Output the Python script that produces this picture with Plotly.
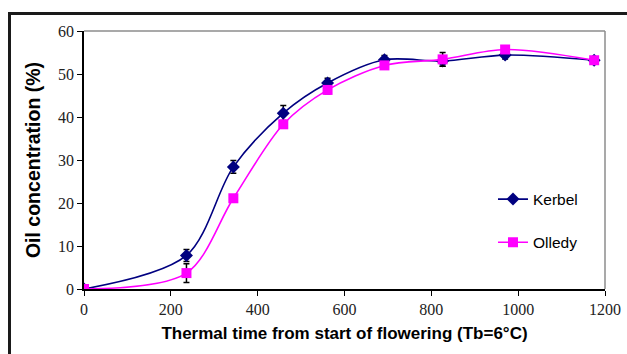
import plotly.graph_objects as go

x_vals = [0, 236, 344, 459, 561, 692, 826, 970, 1175]
kerbel = [0, 7.8, 28.4, 40.9, 47.9, 53.3, 53.0, 54.4, 53.2]
kerbel_err = [0.3, 1.4, 1.5, 1.8, 1.1, 1.0, 1.2, 0.9, 0.3]
olledy = [0, 3.7, 21.1, 38.3, 46.3, 52.0, 53.4, 55.7, 53.2]
olledy_err = [0.3, 2.2, 0.8, 0.9, 0.9, 0.8, 1.6, 0.5, 0.3]
x_ticks = [0, 200, 400, 600, 800, 1000, 1200]
y_ticks = [0, 10, 20, 30, 40, 50, 60]

fig = go.Figure()
fig.add_trace(go.Scatter(
    x=x_vals, y=kerbel, name="Kerbel", mode="lines+markers",
    line=dict(color="#000080", width=1.6, shape="spline", smoothing=0.9),
    marker=dict(symbol="diamond", size=10, color="#000080"),
    error_y=dict(type="data", array=kerbel_err, color="black", thickness=1.5, width=3),
    legendgroup="a",
))
fig.add_trace(go.Scatter(
    x=x_vals, y=olledy, name="Olledy", mode="lines+markers",
    line=dict(color="#FF00FF", width=1.6, shape="spline", smoothing=0.9),
    marker=dict(symbol="square", size=10, color="#FF00FF"),
    error_y=dict(type="data", array=olledy_err, color="black", thickness=1.5, width=3),
    legendgroup="b",
))

L, R, T, B = 84, 22, 31, 65
W, H = 627, 354
pw = W - L - R
ph = H - T - B

def px_x(p):
    return (p - L) / pw

def px_y(p):
    return (H - B - p) / ph

shapes = [
    dict(type="line", xref="paper", yref="paper", x0=0, x1=1, y0=1, y1=1,
         line=dict(color="#8c8c8c", width=1.5)),
    dict(type="line", xref="paper", yref="paper", x0=1, x1=1, y0=0, y1=1,
         line=dict(color="#8c8c8c", width=1.5)),
    dict(type="line", xref="paper", yref="paper", x0=px_x(9.5), x1=px_x(9.5),
         y0=px_y(13.5), y1=px_y(370), line=dict(color="#1a1a1a", width=3)),
    dict(type="line", xref="paper", yref="paper", x0=px_x(8), x1=px_x(640),
         y0=px_y(13.5), y1=px_y(13.5), line=dict(color="#1a1a1a", width=3)),
]

tick_font = dict(family="serif", size=16, color="#222")

fig.update_layout(
    width=W, height=H,
    margin=dict(l=L, r=R, t=T, b=B),
    paper_bgcolor="white", plot_bgcolor="white",
    font=dict(family="serif"),
    showlegend=True,
    legend=dict(x=0.785, y=px_y(221), xanchor="left", yanchor="middle",
                font=dict(family="Liberation Sans", size=15.5, color="black"),
                tracegroupgap=20, bgcolor="rgba(0,0,0,0)", itemwidth=30),
    xaxis=dict(range=[0, 1200], tickvals=x_ticks, ticks="outside", ticklen=5,
               tickcolor="black", showline=True, linecolor="black", linewidth=1.5,
               showgrid=False, zeroline=False, automargin=False,
               tickfont=tick_font,
               title=dict(text="<b>Thermal time from start of flowering (Tb=6°C)</b>",
                          font=dict(family="Liberation Sans", size=17, color="black"),
                          standoff=10)),
    yaxis=dict(range=[0, 60], tickvals=y_ticks, ticks="outside", ticklen=5,
               tickcolor="black", showline=True, linecolor="black", linewidth=1.5,
               showgrid=False, zeroline=False, automargin=False,
               tickfont=tick_font,
               title=dict(text="<b>Oil concentration (%)</b>",
                          font=dict(family="Liberation Sans", size=19.5, color="black"),
                          standoff=12)),
    shapes=shapes,
)
fig.write_html("out.html", config={"displayModeBar": False},
               post_script="document.body.style.margin='0px';document.body.style.overflow='hidden';")
